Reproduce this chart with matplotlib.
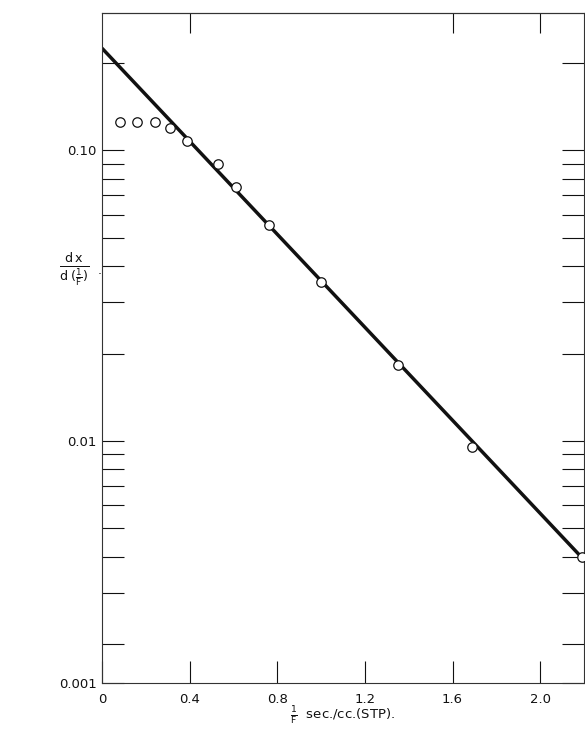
import matplotlib
matplotlib.use("Agg")
import matplotlib.pyplot as plt
from matplotlib.ticker import FixedLocator, FixedFormatter, LogLocator, NullFormatter

# Measured rate of change of conversion against reciprocal flow rate
inv_flow = [0.08, 0.16, 0.24, 0.31, 0.39, 0.53, 0.61, 0.76, 1.00, 1.35, 1.69, 2.19]
slope_vals = [0.125, 0.125, 0.125, 0.119, 0.108, 0.090, 0.075, 0.0555,
              0.0353, 0.0183, 0.0095, 0.0040]

# Straight-line (exponential) fit through the linear region
fit_x = [0.0, 2.2]
fit_y = [0.2247, 0.0039]

x_ticks = [0, 0.4, 0.8, 1.2, 1.6, 2.0]
x_tick_labels = ["0", "0.4", "0.8", "1.2", "1.6", "2.0"]
top_ticks = [0.4, 1.6, 2.0]

y_floor = 0.00147
y_top = 0.297
y_ticks = [y_floor, 0.01, 0.1]
y_tick_labels = ["0.001", "0.01", "0.10"]

plt.rcParams["font.family"] = ["DejaVu Sans"]
plt.rcParams["mathtext.fontset"] = "dejavusans"

W, H = 585, 731
fig = plt.figure(figsize=(W / 100, H / 100), dpi=100)
ax = fig.add_axes([102 / W, 48 / H, (584 - 102) / W, (683 - 13) / H])

ink = "#111111"
spine_col = "#333333"

ax.plot(fit_x, fit_y, color=ink, lw=2.5, solid_capstyle="butt", zorder=2)
ax.plot(inv_flow, slope_vals, linestyle="none", marker="o", ms=6.8,
        mfc="white", mec=ink, mew=0.9, zorder=3, clip_on=False)

ax.set_yscale("log")
ax.set_xlim(0, 2.2)
ax.set_ylim(y_floor, y_top)

ax.xaxis.set_major_locator(FixedLocator(x_ticks))
ax.xaxis.set_major_formatter(FixedFormatter(x_tick_labels))
ax.yaxis.set_major_locator(FixedLocator(y_ticks))
ax.yaxis.set_major_formatter(FixedFormatter(y_tick_labels))
ax.yaxis.set_minor_locator(LogLocator(base=10, subs=range(2, 10)))
ax.yaxis.set_minor_formatter(NullFormatter())

ax.tick_params(axis="both", which="both", direction="in", length=15.5,
               width=0.8, color=ink, labelsize=9.5, labelcolor=ink,
               left=True, right=True, top=False, bottom=True)
ax.tick_params(axis="x", pad=7)
ax.tick_params(axis="y", pad=4)

top = ax.secondary_xaxis("top")
top.set_xticks(top_ticks)
top.set_xticklabels([])
top.tick_params(direction="in", length=14.5, width=0.8, color=ink)
top.spines["top"].set_linewidth(0.8)
top.spines["top"].set_color(spine_col)

for s in ax.spines.values():
    s.set_linewidth(0.8)
    s.set_color(spine_col)

# Axis titles
fig.text(74 / W, 1 - 270 / H,
         r"$\frac{\mathrm{d\,x}}{\mathrm{d}\;(\frac{1}{\mathrm{F}})}$",
         fontsize=13, ha="center", va="center", color=ink)
fig.text(100 / W, 1 - 270 / H, ".", fontsize=9, ha="center", va="center",
         color=ink)
fig.text(343 / W, 1 - 716 / H, r"$\frac{1}{\mathrm{F}}$  sec./cc.(STP).",
         fontsize=9.5, ha="center", va="center", color=ink)

fig.savefig("out.png", dpi=100)
